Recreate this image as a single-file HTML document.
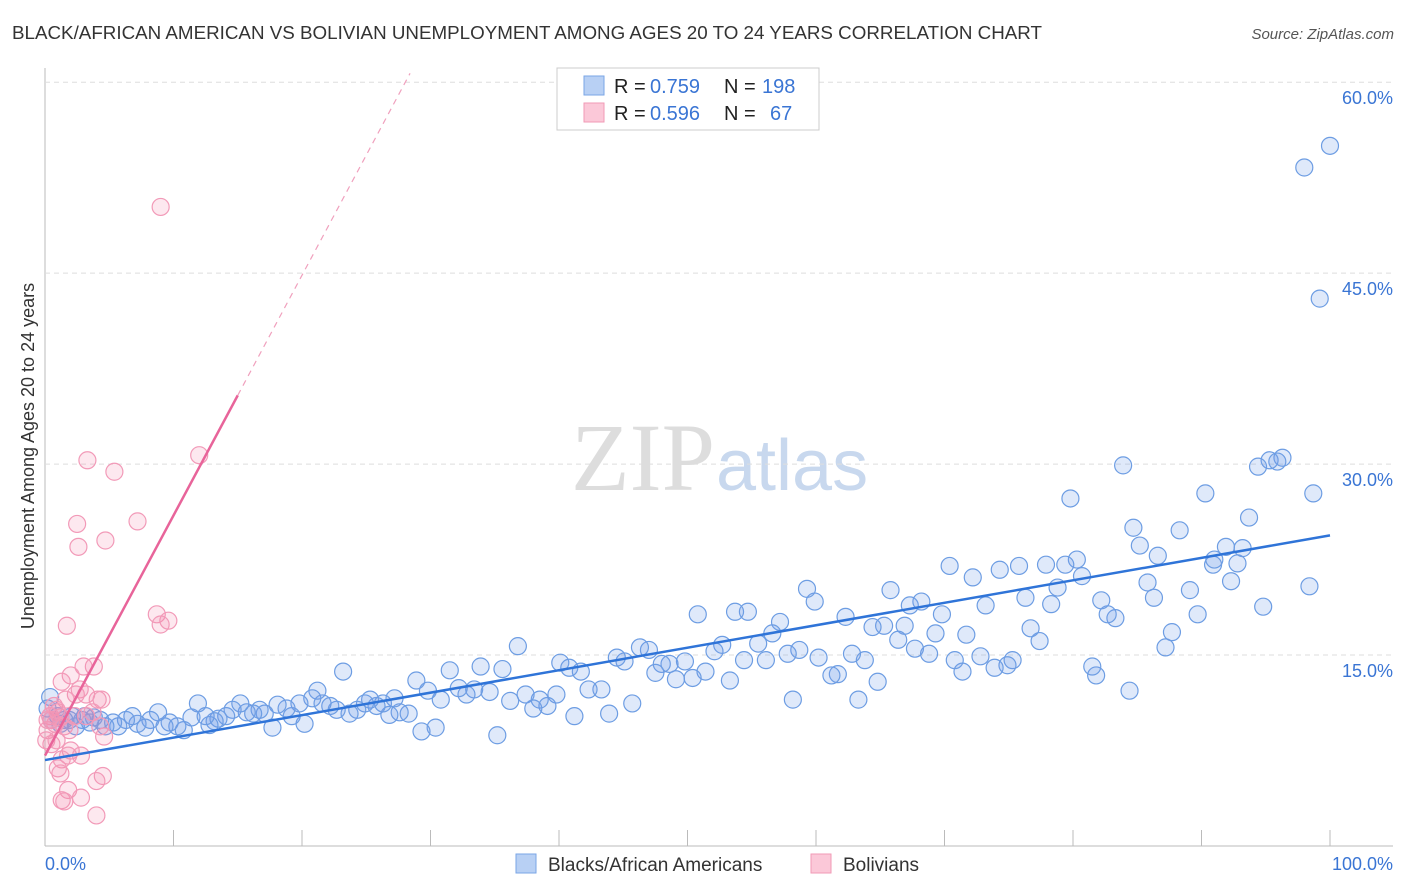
<!DOCTYPE html>
<html><head><meta charset="utf-8"><style>
body{margin:0;background:#fff;font-family:"Liberation Sans",sans-serif;}
#wrap{position:relative;width:1406px;height:892px;overflow:hidden}
</style></head><body>
<div id="wrap">
<svg id="svg" width="1406" height="892" xmlns="http://www.w3.org/2000/svg">
<text x="12" y="39" font-size="18" fill="#333" textLength="1030" lengthAdjust="spacingAndGlyphs">BLACK/AFRICAN AMERICAN VS BOLIVIAN UNEMPLOYMENT AMONG AGES 20 TO 24 YEARS CORRELATION CHART</text>
<text x="1394" y="39" font-size="15" fill="#555" font-style="italic" text-anchor="end">Source: ZipAtlas.com</text>
<text x="715" y="490" font-size="96" fill="#ddd" font-family="Liberation Serif" text-anchor="end">ZIP</text>
<text x="716" y="490" font-size="72" fill="#c8d8ee">atlas</text>
<text transform="translate(34,456) rotate(-90)" font-size="18" fill="#333" text-anchor="middle">Unemployment Among Ages 20 to 24 years</text>
<g id="grid"></g><g id="pts"></g><g id="lines"></g>
<rect x="557" y="68" width="262" height="62" fill="#fff" stroke="#ccc"/>
<rect x="584" y="76" width="20" height="19" fill="#b8d0f4" stroke="#7aa6e6"/>
<rect x="584" y="103" width="20" height="19" fill="#fbc8d8" stroke="#f09ab6"/>
<text x="614" y="93" font-size="20" fill="#222">R =</text>
<text x="650" y="93" font-size="20" fill="#3a75d4">0.759</text>
<text x="724" y="93" font-size="20" fill="#222">N =</text>
<text x="762" y="93" font-size="20" fill="#3a75d4">198</text>
<text x="614" y="120" font-size="20" fill="#222">R =</text>
<text x="650" y="120" font-size="20" fill="#3a75d4">0.596</text>
<text x="724" y="120" font-size="20" fill="#222">N =</text>
<text x="770" y="120" font-size="20" fill="#3a75d4">67</text>
<rect x="516" y="854" width="20" height="19" fill="#b8d0f4" stroke="#7aa6e6"/>
<text x="548" y="871" font-size="19" fill="#333">Blacks/African Americans</text>
<rect x="811" y="854" width="20" height="19" fill="#fbc8d8" stroke="#f09ab6"/>
<text x="843" y="871" font-size="19" fill="#333">Bolivians</text>
<text x="45" y="870" font-size="18" fill="#3a75d4">0.0%</text>
<text x="1393" y="870" font-size="18" fill="#3a75d4" text-anchor="end">100.0%</text>
</svg>
</div>
<script>
const yTicks=[15,30,45,60];
const blueX=[100,98,99.2,98.7,98.4,94.8,96.3,95.3,95.9,94.4,93.7,93.2,91.9,92.8,92.3,90.9,91,90.3,89.7,89.1,88.3,87.7,87.2,86.6,86.3,85.8,85.2,84.7,84.4,83.9,83.3,82.7,82.2,81.8,81.5,80.7,80.3,79.8,79.4,78.8,78.3,77.9,77.4,76.7,76.3,75.8,75.3,74.9,74.3,73.9,73.2,72.8,72.2,71.7,71.4,70.8,70.4,69.8,69.3,68.8,68.2,67.7,67.3,66.9,66.4,65.8,65.3,64.8,64.4,63.8,63.3,62.8,62.3,61.7,61.2,60.2,59.9,59.3,58.7,58.2,57.8,57.2,56.6,56.1,55.5,54.7,54.4,53.7,53.3,52.7,52.1,51.4,50.8,50.4,49.8,49.1,48.6,48,47.5,47,46.3,45.7,45.1,44.5,43.9,43.3,42.3,41.7,41.2,40.8,40.1,39.8,39.1,38.5,38,37.4,36.8,36.2,35.6,35.2,34.6,33.9,33.4,32.8,32.2,31.5,30.8,30.4,29.8,29.3,28.9,28.3,27.6,27.2,26.8,26.3,25.8,25.3,24.9,24.3,23.7,23.2,22.7,22.2,21.6,21.2,20.8,20.2,19.8,19.2,18.8,18.1,17.7,17.1,16.7,16.2,15.7,15.2,14.6,14.1,13.5,13.2,12.8,12.5,11.9,11.4,10.8,10.3,9.7,9.3,8.8,8.2,7.8,7.2,6.8,6.3,5.7,5.3,4.7,4.3,3.8,3.5,2.9,2.4,1.9,1.5,1,0.5,0.4,0.2,1.2,2.1,3.1];
const blueY=[55,53.3,43,27.7,20.4,18.8,30.5,30.3,30.2,29.8,25.8,23.4,23.5,22.2,20.8,22.1,22.5,27.7,18.2,20.1,24.8,16.8,15.6,22.8,19.5,20.7,23.6,25,12.2,29.9,17.9,18.2,19.3,13.4,14.1,21.2,22.5,27.3,22.1,20.3,19,22.1,16.1,17.1,19.5,22,14.6,14.2,21.7,14,18.9,14.9,21.1,16.6,13.7,14.6,22,18.2,16.7,15.1,19.2,15.5,18.9,17.3,16.2,20.1,17.3,12.9,17.2,14.6,11.5,15.1,18,13.5,13.4,14.8,19.2,20.2,15.4,11.5,15.1,17.6,16.7,14.6,15.9,18.4,14.6,18.4,13,15.8,15.3,13.7,18.2,13.2,14.5,13.1,14.3,14.3,13.6,15.4,15.6,11.2,14.5,14.8,10.4,12.3,12.3,13.7,10.2,14,14.4,11.9,11,11.5,10.8,11.9,15.7,11.4,13.9,8.7,12.1,14.1,12.3,11.9,12.4,13.8,11.5,9.3,12.2,9,13,10.4,10.5,11.6,10.3,11.2,11,11.5,11.2,10.7,10.4,13.7,10.7,11,11.2,12.2,11.6,9.6,11.2,10.2,10.8,11.1,9.3,10.4,10.7,10.4,10.5,11.2,10.7,10.2,10,9.8,9.5,10.2,11.2,10.1,9.1,9.4,9.7,9.4,10.5,9.9,9.3,9.6,10.2,9.9,9.4,9.7,9.4,9.9,10.1,9.7,9.9,9.4,9.9,9.9,10.2,9.9,11.7,10.8,9.6,10.2,10.2];
const pinkX=[9,12,3.3,5.4,7.2,2.5,4.7,2.6,8.7,9.6,9,1.7,3.8,3,2,1.3,2.7,2.4,3.2,4.1,4.4,1.6,0.7,1,0.4,0.5,0.8,1.2,1.5,1.9,0.2,0.1,0.5,0.9,2,1.8,2.8,1.3,1,1.2,4.5,4,1.8,2.8,1.3,1.5,4,4.6,4.3,3.7,3.2,2.3,0.2,0.9];
const pinkY=[50.2,30.7,30.3,29.4,25.5,25.3,24,23.5,18.2,17.7,17.4,17.3,14.1,14.1,13.4,12.9,12.3,11.9,11.9,11.5,11.5,11.5,11,10.5,10.2,9.9,9.6,10.1,9.4,9.1,9.1,8.3,8,8.3,7.5,7.1,7.1,6.8,6.1,5.7,5.5,5.1,4.4,3.8,3.6,3.5,2.4,8.6,9.4,10.5,10.2,10.2,9.9,10.7];
const blueTrend=[6.75,24.4];
const pinkTrend=[7.1,35.4,15];
const sx=v=>45+v*12.85, sy=v=>846-v*12.73;
const NS="http://www.w3.org/2000/svg";
function mk(tag,attrs,parent){const e=document.createElementNS(NS,tag);for(const k in attrs)e.setAttribute(k,attrs[k]);document.getElementById(parent).appendChild(e);return e;}
let e;
e=mk('line',{x1:45,y1:68,x2:45,y2:846,stroke:'#bbb'},'grid');


e=mk('line',{x1:45,y1:846,x2:1393,y2:846,stroke:'#bbb'},'grid');


for(let i=0;i<=10;i++){e=mk('line',{x1:sx(i*10),x2:sx(i*10),y1:830,y2:846,stroke:'#bbb'},'grid');

}
yTicks.forEach(t=>{e=mk('line',{x1:45,x2:1393,y1:sy(t),y2:sy(t),stroke:'#ddd','stroke-dasharray':'5,4'},'grid');


e=mk('text',{x:1393,y:sy(t)+22,'font-size':18,fill:'#3a75d4','text-anchor':'end'},'grid');e.textContent=t.toFixed(1)+'%';

});
blueX.forEach((x,i)=>{e=mk('circle',{cx:sx(x),cy:sy(blueY[i]),r:8.5,fill:'rgba(110,155,230,0.22)',stroke:'#6d9de3','stroke-width':1.2},'pts');

});
pinkX.forEach((x,i)=>{e=mk('circle',{cx:sx(x),cy:sy(pinkY[i]),r:8.5,fill:'rgba(245,140,175,0.2)',stroke:'#f29ab8','stroke-width':1.2},'pts');

});
e=mk('line',{x1:sx(0),y1:sy(blueTrend[0]),x2:sx(100),y2:sy(blueTrend[1]),stroke:'#2f74d8','stroke-width':2.5},'lines');


const slope=(pinkTrend[1]-pinkTrend[0])/pinkTrend[2];
e=mk('line',{x1:sx(0),y1:sy(pinkTrend[0]),x2:sx(pinkTrend[2]),y2:sy(pinkTrend[1]),stroke:'#e8649a','stroke-width':2.5},'lines');


const xe=(60.7-pinkTrend[0])/slope;
e=mk('line',{x1:sx(pinkTrend[2]),y1:sy(pinkTrend[1]),x2:sx(xe),y2:sy(60.7),stroke:'#f0a0bd','stroke-width':1.2,'stroke-dasharray':'6,5'},'lines');


</script>
</body></html>
